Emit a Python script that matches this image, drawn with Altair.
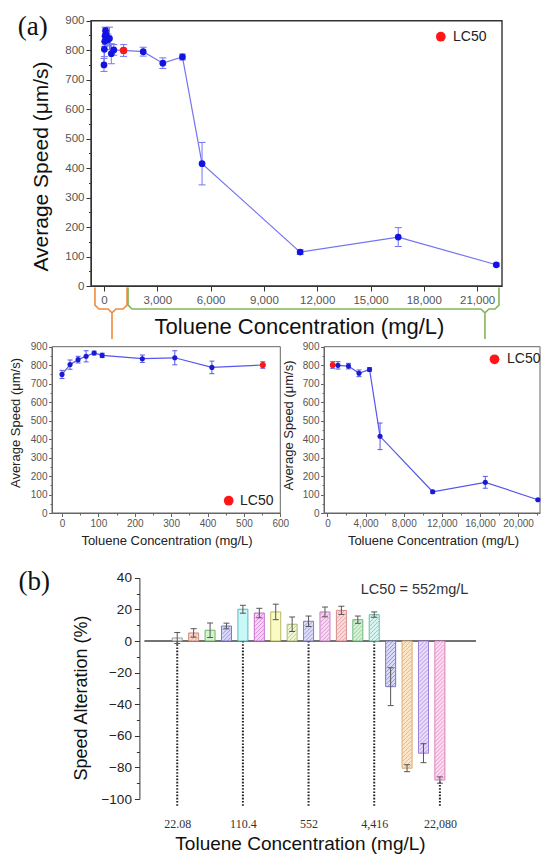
import altair as alt
import pandas as pd

SANS = "Liberation Sans"
SERIF = "Liberation Serif"

# ---------------- data ----------------
conc = [0, 22.08, 44.16, 66.24, 88.32, 110.4, 220.8, 310, 412, 552,
        1104, 2208, 3312, 4416, 5520, 11040, 16560, 22080]
speed = [750, 803, 830, 848, 866, 853, 835, 840, 788, 801,
         799, 795, 756, 777, 415, 115, 166, 72]
speed_err = [22, 25, 18, 30, 10, 12, 20, 38, 34, 18,
             20, 15, 18, 10, 72, 8, 32, 5]
lc50_small = 552     # red point in the two small panels
lc50_big = 1104      # red point as drawn in the big panel

bar_idx = list(range(1, 18))
alteration = [1.9, 5.1, 6.8, 9.5, 20.1, 17.7, 18.4, 10.6, 12.5,
              18.4, 19.4, 13.5, 16.7, -28.9, -80.5, -71.0, -88.0]
alteration_err = [3.5, 2.7, 4.6, 1.8, 2.5, 3.0, 4.9, 4.6, 3.3,
                  3.1, 2.6, 2.3, 1.7, 12.0, 2.2, 6.0, 2.0]
bar_fill = ["#f4f4f4", "#fadcd0", "#d4f4cc", "#dadafc", "#c8f8f8", "#fad4fa",
            "#fafac4", "#f0f8d4", "#dedefa", "#f8d8f4", "#fadada", "#d8f4d8",
            "#d8f6f0", "#dadaf8", "#fde6c8", "#ecdcfc", "#fcdcf0"]
bar_edge = ["#909090", "#d08070", "#60b060", "#6a6ad0", "#50b0b0", "#c060c0",
            "#b0b050", "#a0b060", "#7070c8", "#c070b8", "#d08080", "#60b070",
            "#60b0a0", "#6868c8", "#d0a060", "#9070d0", "#d070b0"]
bar_hatched = [0, 1, 0, 1, 0, 1, 0, 1, 1, 1, 1, 1, 1, 1, 1, 1, 1]
marked_idx = [1, 5, 9, 13, 17]
marked_txt = ["22.08", "110.4", "552", "4,416", "22,080"]

panel_tags = ["(a)", "(b)"]
legend_text = "LC50"
lc50_note = "LC50 = 552mg/L"
x_title = "Toluene Concentration (mg/L)"
y_title = "Average Speed (μm/s)"
bar_y_title = "Speed  Alteration (%)"

# ---------------- layout constants ----------------
W, H = 533, 850
BLUE = "#1212e2"
LINE = "#7474f2"
SBLUE = "#1a1ad0"
SLINE = "#5656ee"
RED = "#ff1616"
ORANGE = "#f08a3c"
GREEN = "#86b45a"


def cond(test, major, minor):
    return {"condition": {"test": test, "value": major}, "value": minor}


def axis(**kw):
    base = dict(grid=False, labelFont=SANS, titleFont=SANS, titleFontWeight="normal",
                labelOverlap=False, labelFlush=False, titleBaseline="alphabetic")
    base.update(kw)
    return alt.Axis(**base)


df = pd.DataFrame({"conc": conc, "speed": speed, "err": speed_err})
df["lo"] = df["speed"] - df["err"]
df["hi"] = df["speed"] + df["err"]


def caps_of(d, key):
    a = d[[key, "lo"]].rename(columns={"lo": "cap"})
    b = d[[key, "hi"]].rename(columns={"hi": "cap"})
    return pd.concat([a, b], ignore_index=True)


def speed_panel(d, red_conc, xs, ys, ax_x, ax_y, line_c, pt_c, pt_size, red_size,
                cap_w, frame_c, frame_w, extra=None):
    X = lambda f: alt.X(f, scale=xs, title=x_title)
    Y = lambda f: alt.Y(f, scale=ys, title=y_title)
    frame = alt.Chart(pd.DataFrame({"x0": [xs.domain[0]], "x1": [xs.domain[1]],
                                    "y0": [ys.domain[0]], "y1": [ys.domain[1]]})).mark_rect(
        fillOpacity=0, stroke=frame_c, strokeWidth=frame_w).encode(
        x=alt.X("x0:Q", scale=xs, axis=ax_x, title=x_title),
        x2="x1:Q",
        y=alt.Y("y0:Q", scale=ys, axis=ax_y, title=y_title),
        y2="y1:Q")
    base = alt.Chart(d)
    line = base.mark_line(color=line_c, strokeWidth=1.2).encode(x=X("conc:Q"), y=Y("speed:Q"))
    err = base.mark_rule(color=line_c, strokeWidth=1).encode(x=X("conc:Q"), y=Y("lo:Q"), y2="hi:Q")
    caps = alt.Chart(caps_of(d, "conc")).mark_tick(orient="horizontal", size=cap_w, thickness=1,
                                                   color=line_c, opacity=1).encode(
        x=X("conc:Q"), y=Y("cap:Q"))
    pts = base.mark_circle(size=pt_size, color=pt_c, opacity=1).encode(x=X("conc:Q"), y=Y("speed:Q"))
    red = alt.Chart(d[d["conc"] == red_conc]).mark_circle(size=red_size, color=RED, opacity=1).encode(
        x=X("conc:Q"), y=Y("speed:Q"))
    layers = [frame]
    if extra is not None:
        layers.append(extra(X, Y))
    layers += [line, err, caps, pts, red]
    return alt.layer(*layers)


# ---------------- (a) big panel ----------------
mx = alt.Scale(domain=[-730, 22400], range=[83, 494])
my = alt.Scale(domain=[0, 900], range=[278, 12.7])
ax_mx = axis(orient="bottom", offset=278 - H, values=list(range(0, 22001, 1500)),
             labelExpr="datum.value % 3000 === 0 ? format(datum.value, ',') : ''",
             tickSize=cond("datum.value % 3000 === 0", 5, 2.5), tickColor="#333",
             domainColor="#333", labelFontSize=11.5, labelColor="#555", labelPadding=3,
             titleFontSize=22, titleColor="#111", titleX=291, titleY=47.3)
ax_my = axis(orient="left", offset=-83, values=list(range(0, 901, 50)),
             labelExpr="datum.value % 100 === 0 ? datum.label : ''",
             tickSize=cond("datum.value % 100 === 0", 5, 2.5), tickColor="#333",
             domainColor="#333", labelFontSize=11.5, labelColor="#555", labelPadding=2,
             titleFontSize=21, titleColor="#111", titleX=-43.4, titleY=158)


def brace(x0, x1, xt, name):
    y_top, y_mid, y_tip, rx, ry = -5, -78, -180, 225, 13
    pts = [(x0, y_top), (x0, y_mid + ry), (x0 + rx, y_mid), (xt - rx, y_mid), (xt, y_mid - ry),
           (xt, y_tip), (xt, y_mid - ry), (xt + rx, y_mid), (x1 - rx, y_mid), (x1, y_mid + ry),
           (x1, y_top)]
    return pd.DataFrame({"bx": [p[0] for p in pts], "by": [p[1] for p in pts],
                         "o": list(range(len(pts))), "g": name})


brace_df = pd.concat([brace(-508, 1300, 452, "low"), brace(1356, 22230, 21440, "high")],
                     ignore_index=True)


def braces(X, Y):
    return alt.Chart(brace_df).mark_line(strokeWidth=1.6).encode(
        x=X("bx:Q"), y=Y("by:Q"), order="o:Q", detail="g:N",
        color=alt.Color("g:N", scale=alt.Scale(domain=["low", "high"], range=[ORANGE, GREEN]),
                        legend=None))


big = speed_panel(df, lc50_big, mx, my, ax_mx, ax_my, LINE, BLUE, 45, 55, 7, "#333", 1.4,
                  extra=braces)

# ---------------- small panels ----------------
sy = alt.Scale(domain=[0, 900], range=[505, 338.7])


def small_y(off, tx, ty):
    return axis(orient="left", offset=off, values=list(range(0, 901, 50)),
                labelExpr="datum.value % 100 === 0 ? datum.label : ''",
                tickSize=cond("datum.value % 100 === 0", 3.5, 2), tickColor="#666",
                domainColor="#666", labelFontSize=10, labelColor="#555", labelPadding=1.5,
                titleFontSize=13, titleColor="#222", titleX=tx, titleY=ty)


lx = alt.Scale(domain=[-27.5, 600], range=[44, 272.3])
ax_lx = axis(orient="bottom", offset=505 - H, values=list(range(0, 601, 50)),
             labelExpr="datum.value % 100 === 0 ? datum.label : ''",
             tickSize=cond("datum.value % 100 === 0", 3.5, 2), tickColor="#666",
             domainColor="#666", labelFontSize=10, labelColor="#555", labelPadding=1.5,
             titleFontSize=13, titleColor="#222", titleX=158.5, titleY=31)
left = speed_panel(df[df["conc"] <= lc50_small], lc50_small, lx, sy, ax_lx,
                   small_y(-44, -33, 414.5), SLINE, SBLUE, 26, 34, 5, "#666", 1)

rx_ = alt.Scale(domain=[-360, 22300], range=[316, 532])
ax_rx = axis(orient="bottom", offset=505 - H, values=list(range(0, 22001, 2000)),
             labelExpr="datum.value % 4000 === 0 ? format(datum.value, ',') : ''",
             tickSize=cond("datum.value % 4000 === 0", 3.5, 2), tickColor="#666",
             domainColor="#666", labelFontSize=10, labelColor="#555", labelPadding=1.5,
             titleFontSize=13, titleColor="#222", titleX=425, titleY=31)
right = speed_panel(df[df["conc"] >= lc50_small], lc50_small, rx_, sy, ax_rx,
                    small_y(-316, -31.7, 417), SLINE, SBLUE, 26, 34, 5, "#666", 1)

# ---------------- (b) bar panel ----------------
bx = alt.Scale(domain=[-1, 19.2], range=[131.4, 473])
by = alt.Scale(domain=[-100, 40], range=[791, 569.8])
kx = (bx.range[1] - bx.range[0]) / (bx.domain[1] - bx.domain[0])   # px per bar index
ky = (by.range[0] - by.range[1]) / (by.domain[1] - by.domain[0])   # px per percent
BAR_W = 10

lab_expr = "''"
for i, t in reversed(list(zip(marked_idx, marked_txt))):
    lab_expr = f"datum.value === {i} ? '{t}' : ({lab_expr})"
ax_bx = axis(orient="bottom", offset=791 - H, values=marked_idx, labelExpr=lab_expr,
             domain=False, ticks=False, tickSize=0, labelFont=SERIF, labelFontSize=12,
             labelColor="#333", labelPadding=19.5, titleFontSize=19,
             titleColor="#111", titleX=292, titleY=50)
ax_by = axis(orient="left", offset=-131.4, values=list(range(-100, 41, 10)),
             labelExpr="datum.value % 20 === 0 ? datum.label : ''",
             tickSize=cond("datum.value % 20 === 0", 5, 3), tickColor="#333",
             domainColor="#333", labelFontSize=13.5, labelColor="#222", labelPadding=3,
             titleFontSize=18, titleColor="#111", titleX=-52.4, titleY=689.5)

bdf = pd.DataFrame({"idx": bar_idx, "val": alteration, "err": alteration_err,
                    "edge": bar_edge})
bdf["lo"] = bdf["val"] - bdf["err"]
bdf["hi"] = bdf["val"] + bdf["err"]
bcaps = caps_of(bdf, "idx")

# diagonal hatch strokes inside the hatched bars (built from each bar's extent)
hatch_rows = []
step = 4.0
for i, v, e, h in zip(bar_idx, alteration, bar_edge, bar_hatched):
    if not h:
        continue
    y0, y1 = sorted([0.0, v * ky])
    half = BAR_W / 2 - 0.6
    b = y0 - 2 * half
    while b < y1 + 2 * half:
        xs_ = max(-half, y0 - b)
        xe_ = min(half, y1 - b)
        if xe_ - xs_ > 0.3:
            hatch_rows.append({"idx": i, "hx": i + xs_ / kx, "hy": (xs_ + b) / ky,
                               "hx2": i + xe_ / kx, "hy2": (xe_ + b) / ky, "edge": e})
        b += step
hdf = pd.DataFrame(hatch_rows)

BX = lambda f: alt.X(f, scale=bx, title=x_title)
BY = lambda f: alt.Y(f, scale=by, title=bar_y_title)
edge_scale = alt.Scale(domain=bar_idx, range=bar_edge)

dots = alt.Chart(pd.DataFrame({"idx": marked_idx, "top": 0, "bot": -105})).mark_rule(
    strokeDash=[1.6, 1.6], strokeWidth=2, color="#222").encode(
    x=alt.X("idx:Q", scale=bx, axis=ax_bx, title=x_title),
    y=alt.Y("top:Q", scale=by, axis=ax_by, title=bar_y_title), y2="bot:Q")
zero = alt.Chart(pd.DataFrame({"x0": [bx.domain[0]], "x1": [bx.domain[1]], "y": [0]})).mark_rule(
    color="#444", strokeWidth=1.3).encode(x=BX("x0:Q"), x2="x1:Q", y=BY("y:Q"))
bars = alt.Chart(bdf).mark_bar(size=BAR_W, strokeWidth=0.9).encode(
    x=BX("idx:Q"), y=BY("val:Q"),
    fill=alt.Fill("idx:O", scale=alt.Scale(domain=bar_idx, range=bar_fill), legend=None),
    stroke=alt.Stroke("idx:O", scale=edge_scale, legend=None))
hatch = alt.Chart(hdf).mark_rule(strokeWidth=0.7, opacity=0.85).encode(
    x=BX("hx:Q"), y=BY("hy:Q"), x2="hx2:Q", y2="hy2:Q",
    color=alt.Color("idx:O", scale=edge_scale, legend=None))
berr = alt.Chart(bdf).mark_rule(color="#555", strokeWidth=1).encode(
    x=BX("idx:Q"), y=BY("lo:Q"), y2="hi:Q")
bcap = alt.Chart(bcaps).mark_tick(orient="horizontal", size=6, thickness=1, color="#555",
                                  opacity=1).encode(x=BX("idx:Q"), y=BY("cap:Q"))
barpanel = alt.layer(dots, zero, bars, hatch, berr, bcap)

# ---------------- annotations ----------------
def txt(s, x, y, size, font=SANS, align="left", baseline="alphabetic", color="#111"):
    return alt.Chart(pd.DataFrame({"t": [s]})).mark_text(
        font=font, fontSize=size, align=align, baseline=baseline, color=color).encode(
        text="t:N", x=alt.value(x), y=alt.value(y))


def dot(x, y, size=95):
    return alt.Chart(pd.DataFrame({"t": [legend_text]})).mark_circle(
        size=size, color=RED, opacity=1).encode(x=alt.value(x), y=alt.value(y))


notes = [
    txt(panel_tags[0], 24.7, 27.2, 27, SERIF, "center"),
    txt(panel_tags[1], 26.3, 582, 27, SERIF, "center"),
    txt(lc50_note, 406.6, 585.5, 14.5, SANS, "center", color="#333"),
    dot(432.8, 28.7), txt(legend_text, 445, 28.7, 14, baseline="middle", color="#222"),
    dot(220.7, 492.7), txt(legend_text, 232, 492.7, 14, baseline="middle", color="#222"),
    dot(486.5, 351.3), txt(legend_text, 499, 351.3, 14, baseline="middle", color="#222"),
]

chart = alt.layer(big, left, right, barpanel, *notes).resolve_scale(
    x="independent", y="independent", color="independent", fill="independent",
    stroke="independent").properties(
    width=W, height=H, padding=0, autosize=alt.AutoSizeParams(type="none")
).configure_view(strokeOpacity=0)

chart.save("out.html", embed_options={"renderer": "svg", "actions": False})
